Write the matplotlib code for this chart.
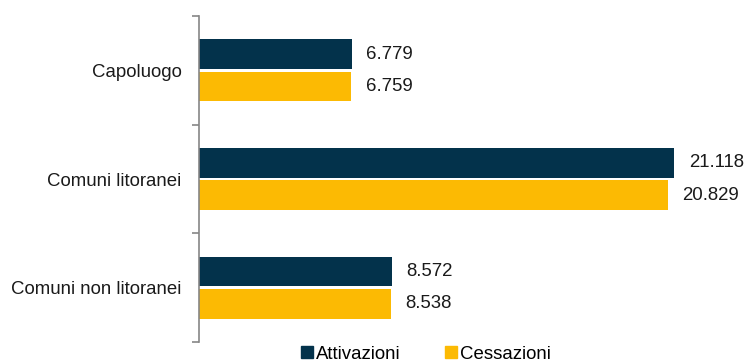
import numpy as np
import matplotlib.pyplot as plt
from matplotlib.lines import Line2D

plt.rcParams['font.family'] = ['Liberation Sans', 'DejaVu Sans']

categories = ["Capoluogo", "Comuni litoranei", "Comuni non litoranei"]
attivazioni = [6779, 21118, 8572]
cessazioni = [6759, 20829, 8538]
labels_att = ["6.779", "21.118", "8.572"]
labels_ces = ["6.759", "20.829", "8.538"]

dark = '#03324B'
yellow = '#FCBA03'

fig = plt.figure(figsize=(7.49, 3.63), dpi=100)
ax = fig.add_axes([199 / 749, 21 / 363, 540 / 749, 326 / 363])

y = np.arange(len(categories))
off = 0.149
h = 0.275
ax.barh(y - off, attivazioni, height=h, color=dark)
ax.barh(y + off, cessazioni, height=h, color=yellow)

# value labels right of each bar
for yi, v, t in zip(y, attivazioni, labels_att):
    ax.text(v + 650, yi - off, t, va='center', ha='left', fontsize=13.4, color='#1a1a1a')
for yi, v, t in zip(y, cessazioni, labels_ces):
    ax.text(v + 650, yi + off, t, va='center', ha='left', fontsize=13.4, color='#1a1a1a')

ax.set_ylim(2.5, -0.5)
ax.set_xlim(0, 24000)
ax.set_yticks(y)
ax.set_yticklabels(categories, fontsize=13.4, color='#1a1a1a')
ax.tick_params(axis='y', which='major', length=0, pad=12.5)
ax.set_yticks([-0.5, 0.5, 1.5, 2.5], minor=True)
ax.tick_params(axis='y', which='minor', length=5, color='#868686', width=1.2)
ax.set_xticks([])
for s in ['top', 'right', 'bottom']:
    ax.spines[s].set_visible(False)
ax.spines['left'].set_color('#868686')
ax.spines['left'].set_linewidth(1.2)

handles = [Line2D([], [], marker='s', linestyle='none', markersize=8, color=dark),
           Line2D([], [], marker='s', linestyle='none', markersize=8, color=yellow)]
fig.legend(handles, ["Attivazioni", "Cessazioni"], loc='center', ncol=2,
           bbox_to_anchor=(426 / 749, 9 / 363), frameon=False, fontsize=13.4,
           handlelength=0.6, handletextpad=0.2, columnspacing=2.4)

fig.savefig('out.png', dpi=100)
